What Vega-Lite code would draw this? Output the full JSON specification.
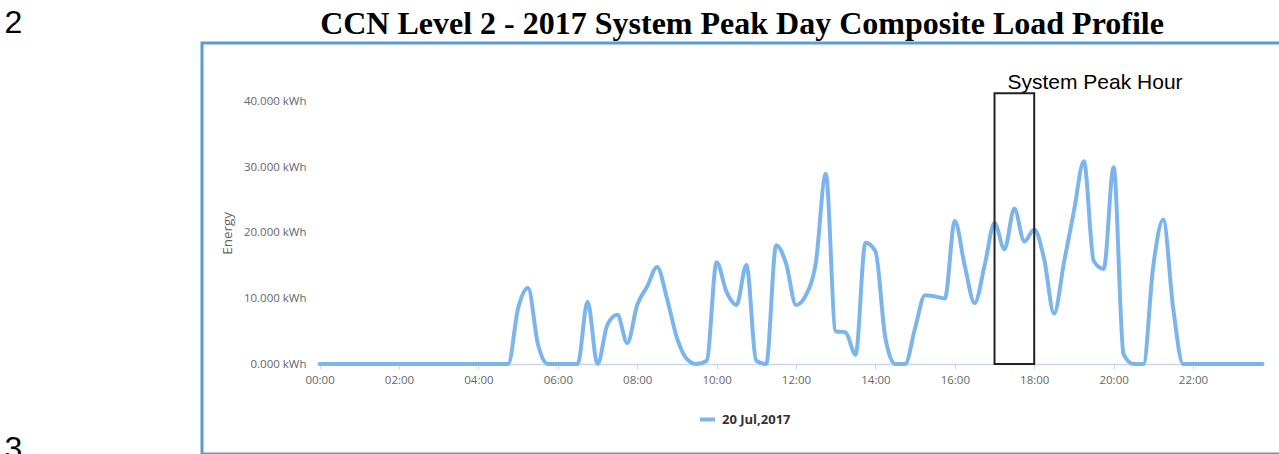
{
  "$schema": "https://vega.github.io/schema/vega-lite/v6.json",
  "background": "white",
  "padding": {"left": 0, "top": 6, "right": 0, "bottom": 0},
  "spacing": 173,
  "config": {"font": "Open Sans", "view": {"stroke": null}},
  "datasets": {
    "load": [
      {"time": "2017-07-20T00:00:00", "energy": 0},
      {"time": "2017-07-20T00:15:00", "energy": 0},
      {"time": "2017-07-20T00:30:00", "energy": 0},
      {"time": "2017-07-20T00:45:00", "energy": 0},
      {"time": "2017-07-20T01:00:00", "energy": 0},
      {"time": "2017-07-20T01:15:00", "energy": 0},
      {"time": "2017-07-20T01:30:00", "energy": 0},
      {"time": "2017-07-20T01:45:00", "energy": 0},
      {"time": "2017-07-20T02:00:00", "energy": 0},
      {"time": "2017-07-20T02:15:00", "energy": 0},
      {"time": "2017-07-20T02:30:00", "energy": 0},
      {"time": "2017-07-20T02:45:00", "energy": 0},
      {"time": "2017-07-20T03:00:00", "energy": 0},
      {"time": "2017-07-20T03:15:00", "energy": 0},
      {"time": "2017-07-20T03:30:00", "energy": 0},
      {"time": "2017-07-20T03:45:00", "energy": 0},
      {"time": "2017-07-20T04:00:00", "energy": 0},
      {"time": "2017-07-20T04:15:00", "energy": 0},
      {"time": "2017-07-20T04:30:00", "energy": 0},
      {"time": "2017-07-20T04:45:00", "energy": 0},
      {"time": "2017-07-20T05:00:00", "energy": 8.5},
      {"time": "2017-07-20T05:15:00", "energy": 11.6},
      {"time": "2017-07-20T05:30:00", "energy": 3.0},
      {"time": "2017-07-20T05:45:00", "energy": 0},
      {"time": "2017-07-20T06:00:00", "energy": 0},
      {"time": "2017-07-20T06:15:00", "energy": 0},
      {"time": "2017-07-20T06:30:00", "energy": 0},
      {"time": "2017-07-20T06:45:00", "energy": 9.5},
      {"time": "2017-07-20T07:00:00", "energy": 0},
      {"time": "2017-07-20T07:15:00", "energy": 6.0},
      {"time": "2017-07-20T07:30:00", "energy": 7.5},
      {"time": "2017-07-20T07:45:00", "energy": 3.2},
      {"time": "2017-07-20T08:00:00", "energy": 9.0},
      {"time": "2017-07-20T08:15:00", "energy": 11.8},
      {"time": "2017-07-20T08:30:00", "energy": 14.8},
      {"time": "2017-07-20T08:45:00", "energy": 10.0},
      {"time": "2017-07-20T09:00:00", "energy": 4.0},
      {"time": "2017-07-20T09:15:00", "energy": 0.8},
      {"time": "2017-07-20T09:30:00", "energy": 0},
      {"time": "2017-07-20T09:45:00", "energy": 0.5},
      {"time": "2017-07-20T10:00:00", "energy": 15.5},
      {"time": "2017-07-20T10:15:00", "energy": 11.0},
      {"time": "2017-07-20T10:30:00", "energy": 9.0},
      {"time": "2017-07-20T10:45:00", "energy": 15.1},
      {"time": "2017-07-20T11:00:00", "energy": 0.5},
      {"time": "2017-07-20T11:15:00", "energy": 0},
      {"time": "2017-07-20T11:30:00", "energy": 18.1},
      {"time": "2017-07-20T11:45:00", "energy": 15.3},
      {"time": "2017-07-20T12:00:00", "energy": 9.0},
      {"time": "2017-07-20T12:15:00", "energy": 10.5},
      {"time": "2017-07-20T12:30:00", "energy": 15.5},
      {"time": "2017-07-20T12:45:00", "energy": 29.0},
      {"time": "2017-07-20T13:00:00", "energy": 5.0},
      {"time": "2017-07-20T13:15:00", "energy": 4.8},
      {"time": "2017-07-20T13:30:00", "energy": 1.4},
      {"time": "2017-07-20T13:45:00", "energy": 18.5},
      {"time": "2017-07-20T14:00:00", "energy": 17.2},
      {"time": "2017-07-20T14:15:00", "energy": 4.0},
      {"time": "2017-07-20T14:30:00", "energy": 0},
      {"time": "2017-07-20T14:45:00", "energy": 0},
      {"time": "2017-07-20T15:00:00", "energy": 5.5},
      {"time": "2017-07-20T15:15:00", "energy": 10.5},
      {"time": "2017-07-20T15:30:00", "energy": 10.3},
      {"time": "2017-07-20T15:45:00", "energy": 10.0},
      {"time": "2017-07-20T16:00:00", "energy": 21.8},
      {"time": "2017-07-20T16:15:00", "energy": 15.0},
      {"time": "2017-07-20T16:30:00", "energy": 9.3},
      {"time": "2017-07-20T16:45:00", "energy": 15.0},
      {"time": "2017-07-20T17:00:00", "energy": 21.5},
      {"time": "2017-07-20T17:15:00", "energy": 17.5},
      {"time": "2017-07-20T17:30:00", "energy": 23.7},
      {"time": "2017-07-20T17:45:00", "energy": 18.7},
      {"time": "2017-07-20T18:00:00", "energy": 20.5},
      {"time": "2017-07-20T18:15:00", "energy": 16.0},
      {"time": "2017-07-20T18:30:00", "energy": 7.7},
      {"time": "2017-07-20T18:45:00", "energy": 15.5},
      {"time": "2017-07-20T19:00:00", "energy": 23.3},
      {"time": "2017-07-20T19:15:00", "energy": 30.9},
      {"time": "2017-07-20T19:30:00", "energy": 15.7},
      {"time": "2017-07-20T19:45:00", "energy": 14.5},
      {"time": "2017-07-20T20:00:00", "energy": 30.0},
      {"time": "2017-07-20T20:15:00", "energy": 1.5},
      {"time": "2017-07-20T20:30:00", "energy": 0},
      {"time": "2017-07-20T20:45:00", "energy": 0},
      {"time": "2017-07-20T21:00:00", "energy": 15.0},
      {"time": "2017-07-20T21:15:00", "energy": 22.0},
      {"time": "2017-07-20T21:30:00", "energy": 8.5},
      {"time": "2017-07-20T21:45:00", "energy": 0},
      {"time": "2017-07-20T22:00:00", "energy": 0},
      {"time": "2017-07-20T22:15:00", "energy": 0},
      {"time": "2017-07-20T22:30:00", "energy": 0},
      {"time": "2017-07-20T22:45:00", "energy": 0},
      {"time": "2017-07-20T23:00:00", "energy": 0},
      {"time": "2017-07-20T23:15:00", "energy": 0},
      {"time": "2017-07-20T23:30:00", "energy": 0},
      {"time": "2017-07-20T23:45:00", "energy": 0}
    ],
    "peak": [
      {"start": "2017-07-20T17:00:00", "end": "2017-07-20T18:00:00", "top": 41.3, "label": "System Peak Hour"}
    ],
    "pages": [
      {"line": "2"},
      {"line": "3"}
    ]
  },
  "hconcat": [
    {
      "width": 27,
      "height": 411,
      "view": {"stroke": null},
      "data": {"name": "pages"},
      "mark": {"type": "text", "font": "Liberation Sans", "fontSize": 32, "color": "black", "align": "center", "baseline": "alphabetic"},
      "encoding": {
        "y": {"field": "line", "type": "ordinal", "scale": {"type": "point", "padding": 0, "range": [-10.3, 416]}, "axis": null},
        "text": {"field": "line"}
      }
    },
    {
      "width": 1080,
      "height": 411,
      "view": {"stroke": "#5b9bd5", "strokeWidth": 3},
      "title": {
        "text": "CCN Level 2 - 2017 System Peak Day Composite Load Profile",
        "font": "Liberation Serif",
        "fontSize": 32,
        "fontWeight": "bold",
        "color": "black",
        "anchor": "middle",
        "baseline": "alphabetic",
        "offset": -22.7
      },
      "layer": [
        {
          "data": {"name": "load"},
          "mark": {"type": "line", "interpolate": "monotone", "strokeWidth": 4, "strokeCap": "round", "strokeJoin": "round"},
          "encoding": {
            "x": {
              "field": "time", "type": "temporal",
              "scale": {"nice": false, "range": [117.6, 1060.5]},
              "axis": {
                "orient": "bottom", "offset": -90, "title": null, "grid": false,
                "format": "%H:%M",
                "values": [
                  {"year": 2017, "month": 7, "date": 20, "hours": 0},
                  {"year": 2017, "month": 7, "date": 20, "hours": 2},
                  {"year": 2017, "month": 7, "date": 20, "hours": 4},
                  {"year": 2017, "month": 7, "date": 20, "hours": 6},
                  {"year": 2017, "month": 7, "date": 20, "hours": 8},
                  {"year": 2017, "month": 7, "date": 20, "hours": 10},
                  {"year": 2017, "month": 7, "date": 20, "hours": 12},
                  {"year": 2017, "month": 7, "date": 20, "hours": 14},
                  {"year": 2017, "month": 7, "date": 20, "hours": 16},
                  {"year": 2017, "month": 7, "date": 20, "hours": 18},
                  {"year": 2017, "month": 7, "date": 20, "hours": 20},
                  {"year": 2017, "month": 7, "date": 20, "hours": 22}
                ],
                "domainColor": "#ccd6eb", "domainWidth": 1.5,
                "tickColor": "#ccd6eb", "tickSize": 5, "tickWidth": 1,
                "labelFont": "Open Sans", "labelFontSize": 11.5, "labelColor": "#666666",
                "labelPadding": 5, "labelFlush": false, "labelOverlap": false
              }
            },
            "y": {
              "field": "energy", "type": "quantitative",
              "scale": {"domain": [0, 40], "range": [321, 58.7], "nice": false, "zero": true},
              "axis": {
                "orient": "left", "offset": -117.6, "grid": false,
                "domain": false, "ticks": false, "tickSize": 0,
                "values": [0, 10, 20, 30, 40],
                "labelExpr": "format(datum.value, '.3f') + ' kWh'",
                "labelFont": "Open Sans", "labelFontSize": 11.5, "labelColor": "#666666",
                "labelPadding": 13.6,
                "title": "Energy", "titleFont": "Open Sans", "titleFontSize": 13.5,
                "titleFontWeight": "normal", "titleColor": "#666666", "titlePadding": 9
              }
            },
            "color": {
              "datum": "20 Jul,2017",
              "scale": {"range": ["#7cb5ec"]},
              "legend": {
                "title": null, "orient": "none", "legendX": 698, "legendY": 367,
                "padding": 0, "symbolType": "stroke", "symbolSize": 225, "symbolStrokeWidth": 4,
                "labelFont": "Open Sans", "labelFontSize": 13, "labelFontWeight": "bold",
                "labelColor": "#333333", "labelOffset": 5
              }
            }
          }
        },
        {
          "data": {"name": "peak"},
          "mark": {"type": "rect", "fillOpacity": 0, "stroke": "#222222", "strokeWidth": 2},
          "encoding": {
            "x": {"field": "start", "type": "temporal"},
            "x2": {"field": "end"},
            "y": {"field": "top", "type": "quantitative"},
            "y2": {"datum": 0}
          }
        },
        {
          "data": {"name": "peak"},
          "mark": {"type": "text", "font": "Liberation Sans", "fontSize": 21, "color": "black", "align": "left", "baseline": "alphabetic", "dx": 13, "dy": -4},
          "encoding": {
            "x": {"field": "start", "type": "temporal"},
            "y": {"field": "top", "type": "quantitative"},
            "text": {"field": "label"}
          }
        }
      ]
    }
  ]
}
